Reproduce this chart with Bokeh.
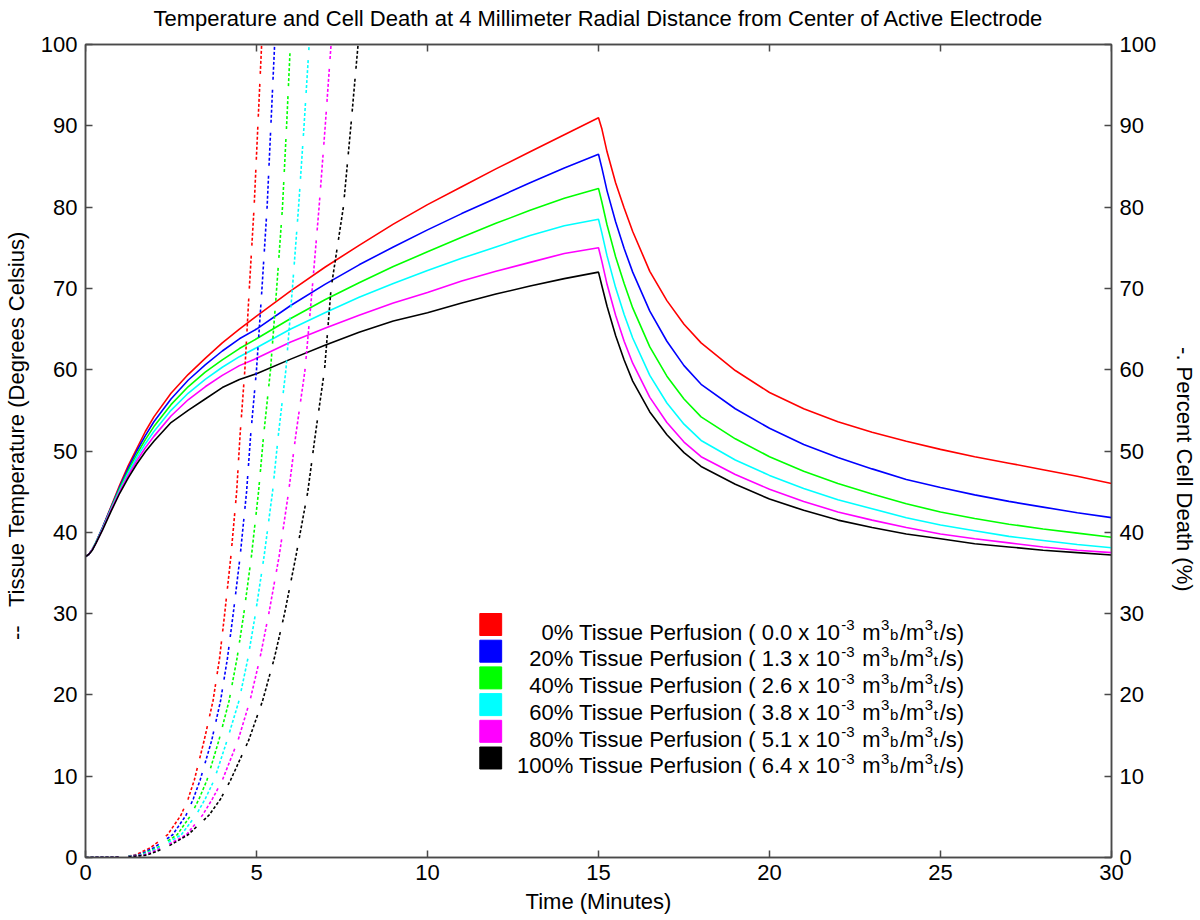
from bokeh.plotting import figure
from bokeh.models import Range1d, LinearAxis, Label, FixedTicker
from bokeh.embed import file_html
from bokeh.resources import INLINE

# ---------------- data ----------------
title_text = "Temperature and Cell Death at 4 Millimeter Radial Distance from Center of Active Electrode"
x_ticks = [0, 5, 10, 15, 20, 25, 30]
y_ticks = [0, 10, 20, 30, 40, 50, 60, 70, 80, 90, 100]

colors = ["#FF0000", "#0000FF", "#00FF00", "#00FFFF", "#FF00FF", "#000000"]
perfusion_pct = ["0%", "20%", "40%", "60%", "80%", "100%"]
perfusion_rate = ["0.0", "1.3", "2.6", "3.8", "5.1", "6.4"]

# temperature (deg C) vs time (min)
time_min = [0, 0.1, 0.2, 0.3, 0.5, 0.75, 1, 1.25, 1.5, 1.75, 2, 2.5, 3, 3.5, 4, 4.5, 5,
            6, 7, 8, 9, 10, 11, 12, 13, 14, 15,
            15.1, 15.25, 15.5, 15.75, 16, 16.5, 17, 17.5, 18, 19, 20,
            21, 22, 23, 24, 25, 26, 27, 28, 29, 30]
temp_0 = [37.0, 37.3, 37.9, 38.7, 40.6, 43.2, 45.8, 48.2, 50.3, 52.4, 54.2, 57.1, 59.4, 61.4, 63.3, 65.0, 66.6,
          69.7, 72.6, 75.3, 77.9, 80.3, 82.5, 84.7, 86.8, 88.9, 91.0,
          89.6, 86.8, 83.0, 79.9, 77.0, 72.1, 68.5, 65.6, 63.3, 59.9, 57.2,
          55.2, 53.6, 52.3, 51.2, 50.2, 49.3, 48.5, 47.7, 46.9, 46.0]
temp_20 = [37.0, 37.3, 37.9, 38.7, 40.6, 43.1, 45.6, 47.9, 50.0, 51.9, 53.6, 56.4, 58.7, 60.6, 62.3, 63.8, 65.0,
           67.9, 70.5, 72.9, 75.1, 77.2, 79.2, 81.1, 83.0, 84.8, 86.5,
           84.8, 82.0, 78.2, 74.9, 72.0, 67.2, 63.5, 60.5, 58.2, 55.2, 52.8,
           50.8, 49.2, 47.8, 46.5, 45.5, 44.6, 43.8, 43.1, 42.4, 41.8]
temp_40 = [37.0, 37.3, 37.9, 38.7, 40.5, 43.0, 45.4, 47.6, 49.6, 51.4, 53.0, 55.7, 57.9, 59.7, 61.2, 62.6, 63.8,
           66.3, 68.6, 70.7, 72.7, 74.5, 76.3, 78.0, 79.6, 81.1, 82.3,
           80.6, 77.8, 73.9, 70.6, 67.6, 62.8, 59.2, 56.4, 54.2, 51.5, 49.3,
           47.5, 46.0, 44.7, 43.5, 42.5, 41.7, 41.0, 40.4, 39.9, 39.4]
temp_60 = [37.0, 37.3, 37.9, 38.7, 40.5, 42.9, 45.2, 47.3, 49.2, 50.9, 52.4, 55.0, 57.1, 58.8, 60.3, 61.6, 62.7,
           65.0, 67.0, 68.9, 70.6, 72.2, 73.7, 75.1, 76.5, 77.7, 78.5,
           76.8, 74.0, 70.1, 66.8, 63.9, 59.3, 55.9, 53.3, 51.3, 48.9, 47.0,
           45.4, 44.0, 42.9, 41.8, 40.9, 40.2, 39.5, 39.0, 38.5, 38.1]
temp_80 = [37.0, 37.3, 37.9, 38.6, 40.4, 42.8, 45.0, 47.0, 48.8, 50.4, 51.8, 54.3, 56.3, 57.9, 59.3, 60.5, 61.4,
           63.4, 65.1, 66.7, 68.2, 69.5, 70.9, 72.1, 73.2, 74.3, 75.0,
           73.3, 70.5, 66.7, 63.5, 60.8, 56.6, 53.5, 51.1, 49.3, 47.1, 45.3,
           43.8, 42.5, 41.5, 40.6, 39.8, 39.2, 38.7, 38.2, 37.8, 37.5]
temp_100 = [37.0, 37.3, 37.8, 38.6, 40.3, 42.6, 44.8, 46.7, 48.4, 49.9, 51.2, 53.5, 55.0, 56.4, 57.8, 58.8, 59.5,
            61.3, 63.0, 64.6, 66.0, 67.0, 68.2, 69.3, 70.3, 71.2, 72.0,
            70.3, 67.8, 64.2, 61.2, 58.6, 54.8, 52.0, 49.8, 48.1, 45.9, 44.1,
            42.7, 41.5, 40.6, 39.8, 39.2, 38.6, 38.2, 37.8, 37.5, 37.2]

# percent cell death: levels and time (min) at which each curve reaches them
death_pct = [0, 0.05, 0.3, 1.2, 2.8, 5.2, 7.2, 9.5, 14.4, 19.3, 24.5, 30, 37, 45, 52, 60, 70, 80, 90, 100]
death_t_0 = [0, 1.0, 1.45, 1.9, 2.4, 2.79, 3.0, 3.18, 3.47, 3.73, 3.92, 4.07, 4.25, 4.42, 4.52, 4.66, 4.79, 4.93, 5.04, 5.15]
death_t_20 = [0, 1.05, 1.55, 2.0, 2.55, 2.94, 3.15, 3.35, 3.69, 3.95, 4.15, 4.32, 4.52, 4.71, 4.83, 5.00, 5.16, 5.31, 5.42, 5.53]
death_t_40 = [0, 1.1, 1.6, 2.1, 2.68, 3.08, 3.32, 3.55, 3.90, 4.20, 4.43, 4.63, 4.85, 5.06, 5.21, 5.41, 5.59, 5.76, 5.88, 5.99]
death_t_60 = [0, 1.1, 1.65, 2.15, 2.8, 3.23, 3.50, 3.76, 4.14, 4.49, 4.75, 4.97, 5.22, 5.47, 5.64, 5.86, 6.05, 6.23, 6.39, 6.54]
death_t_80 = [0, 1.15, 1.7, 2.25, 2.95, 3.42, 3.71, 4.00, 4.46, 4.81, 5.10, 5.36, 5.66, 5.94, 6.15, 6.42, 6.63, 6.83, 7.01, 7.18]
death_t_100 = [0, 1.2, 1.8, 2.35, 3.0, 3.61, 3.95, 4.24, 4.77, 5.18, 5.52, 5.82, 6.15, 6.50, 6.72, 6.99, 7.18, 7.54, 7.76, 7.97]

temps = [temp_0, temp_20, temp_40, temp_60, temp_80, temp_100]
deaths = [death_t_0, death_t_20, death_t_40, death_t_60, death_t_80, death_t_100]

# ---------------- layout ----------------
FONT = "Liberation Sans"
FRAME_COL = "#4a4a4a"
W, H = 1200, 920
FX0, FX1, FY0, FY1 = 84, 1117, 857, 44   # frame edges in pixels
X0, X1, Y0, Y1 = 0, 30, 0, 100

p = figure(width=W, height=H, output_backend="svg", toolbar_location=None,
           x_range=Range1d(X0, X1), y_range=Range1d(Y0, Y1),
           min_border_left=FX0, min_border_right=W - FX1,
           min_border_top=FY1, min_border_bottom=H - FY0,
           background_fill_color="white", border_fill_color="white")
p.extra_y_ranges = {"death": Range1d(Y0, Y1)}
p.grid.visible = False
p.outline_line_color = FRAME_COL
p.outline_line_width = 1.5


def style_axis(ax):
    ax.axis_line_color = FRAME_COL
    ax.axis_line_width = 1.5
    ax.major_tick_line_color = FRAME_COL
    ax.major_tick_line_width = 1.5
    ax.major_tick_in = 7
    ax.major_tick_out = 0
    ax.minor_tick_in = 0
    ax.minor_tick_out = 0
    ax.major_label_text_font = FONT
    ax.major_label_text_color = "black"
    ax.major_label_text_font_size = "22px"
    ax.axis_label_text_font = FONT
    ax.axis_label_text_font_size = "22px"
    ax.axis_label_text_font_style = "normal"
    ax.axis_label_text_color = "black"


xa = p.xaxis[0]
style_axis(xa)
xa.ticker = FixedTicker(ticks=x_ticks)
xa.axis_label = "Time (Minutes)"
xa.major_label_standoff = 7
xa.axis_label_standoff = 6

ya = p.yaxis[0]
style_axis(ya)
ya.ticker = FixedTicker(ticks=y_ticks)
ya.axis_label = "\u00a0" * 5 + "--" + "\u00a0" * 3 + "Tissue Temperature (Degrees Celsius)"
ya.major_label_standoff = 8
ya.axis_label_standoff = 9

ra = LinearAxis(y_range_name="death", ticker=FixedTicker(ticks=y_ticks))
style_axis(ra)
ra.major_label_standoff = 8
ra.axis_label = "\u00a0" * 6 + "-. Percent Cell Death (%)"
ra.axis_label_standoff = 13
p.add_layout(ra, "right")

# title carried by a tick-less axis above the box
ta = LinearAxis(ticker=FixedTicker(ticks=[]))
style_axis(ta)
ta.major_tick_in = 0
ta.major_label_standoff = 0
ta.axis_label = title_text
ta.axis_label_standoff = 14
p.add_layout(ta, "above")


def sx(px):
    return X0 + (px - FX0) / (FX1 - FX0) * (X1 - X0)


def sy(py):
    return Y0 + (FY0 - py) / (FY0 - FY1) * (Y1 - Y0)


# inward tick marks on the top edge of the box
tick_len = sy(FY1 + 7)
p.segment(x0=x_ticks, y0=[Y1] * len(x_ticks), x1=x_ticks, y1=[tick_len] * len(x_ticks),
          line_color=FRAME_COL, line_width=1.5)

# ---------------- curves ----------------
for col, tmp in zip(colors, temps):
    p.line(time_min, tmp, line_color=col, line_width=1.6)

for col, dt in zip(colors, deaths):
    p.line(dt, death_pct, y_range_name="death", line_color=col, line_width=1.6,
           line_dash="3 2 3 2 3 2 3 2 3 2 3 2 3 10")

# ---------------- legend (manual, with super/subscripts) ----------------
SQ_L, SQ_R, SQ_H = 481, 503, 22
ROW0, DY = 624.0, 26.7
BASE0 = 631.7
ANCHOR = 844
MAIN_FS, SCR_FS = "22px", "15px"
SUP, SUB = -7, 2

sq_l, sq_r, sq_t, sq_b = [], [], [], []
for k in range(len(colors)):
    cy = ROW0 + k * DY
    sq_l.append(sx(SQ_L)); sq_r.append(sx(SQ_R))
    sq_t.append(sy(cy - SQ_H / 2)); sq_b.append(sy(cy + SQ_H / 2))
p.quad(left=sq_l, right=sq_r, top=sq_t, bottom=sq_b, fill_color=colors,
       line_color=colors, line_width=1)


def lab(px, py, txt, fs, align="left"):
    p.add_layout(Label(x=sx(px), y=sy(py), text=txt, text_font=FONT,
                       text_font_size=fs, text_color="black", text_align=align,
                       text_baseline="alphabetic"))


for k in range(len(colors)):
    b = BASE0 + k * DY
    lab(ANCHOR, b, f"{perfusion_pct[k]} Tissue Perfusion ( {perfusion_rate[k]} x 10", MAIN_FS, "right")
    lab(ANCHOR + 1, b + SUP, "-3", SCR_FS)
    lab(ANCHOR + 16, b, "\u00a0m", MAIN_FS)
    lab(ANCHOR + 41, b + SUP, "3", SCR_FS)
    lab(ANCHOR + 50, b + SUB, "b", SCR_FS)
    lab(ANCHOR + 60, b, "/m", MAIN_FS)
    lab(ANCHOR + 85, b + SUP, "3", SCR_FS)
    lab(ANCHOR + 94, b + SUB, "t", SCR_FS)
    lab(ANCHOR + 100, b, "/s)", MAIN_FS)

open("out.html", "w").write(file_html(p, INLINE))
